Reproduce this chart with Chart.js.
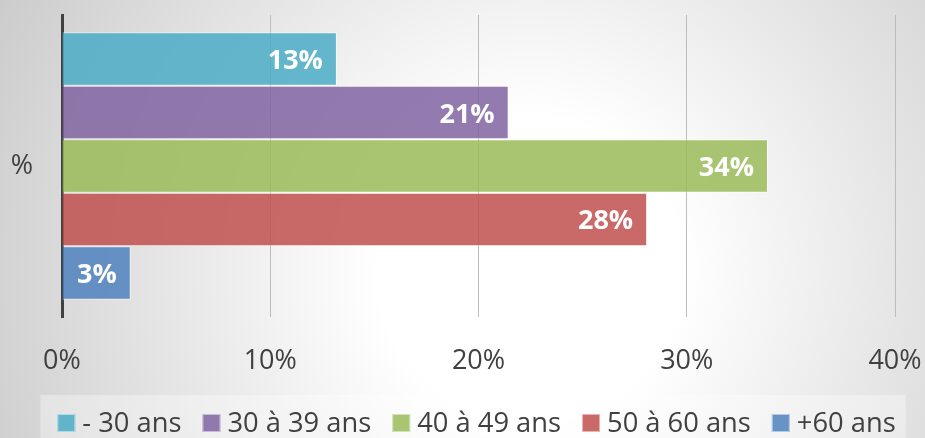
<!DOCTYPE html>
<html>
<head>
<meta charset="utf-8">
<script src="https://cdn.jsdelivr.net/npm/chart.js@4/dist/chart.umd.min.js"></script>
<style>
  html, body { margin: 0; padding: 0; background: #d0d0d0; }
  #wrap { width: 925px; height: 438px; }
</style>
</head>
<body>
<div id="wrap"><canvas id="c" width="925" height="438"></canvas></div>
<script>
const categories = ['%'];
const seriesNames = ['- 30 ans', '30 à 39 ans', '40 à 49 ans', '50 à 60 ans', '+60 ans'];
const seriesValues = [13.2, 21.45, 33.9, 28.1, 3.3];
const seriesColors = ['rgba(75,172,198,0.85)', 'rgba(128,100,162,0.85)', 'rgba(155,187,89,0.85)', 'rgba(192,80,77,0.85)', 'rgba(79,129,189,0.85)'];
const xTickMin = 0;
const xTickMax = 40;
const xTickStep = 10;

const textFont = "'Open Sans', 'DejaVu Sans', sans-serif";
const LEGEND_H = 43;

const bgPlugin = {
  id: 'bg',
  beforeDraw(chart) {
    const ctx = chart.ctx;
    const w = chart.width, h = chart.height;
    ctx.save();
    const g = ctx.createRadialGradient(530, 270, 20, 530, 270, 620);
    g.addColorStop(0, '#ffffff');
    g.addColorStop(0.22, '#ffffff');
    g.addColorStop(0.6, '#e4e4e4');
    g.addColorStop(1, '#c9c9c9');
    ctx.fillStyle = g;
    ctx.fillRect(0, 0, w, h);
    ctx.restore();
  }
};

const legendPlugin = {
  id: 'customLegend',
  afterDraw(chart) {
    const ctx = chart.ctx;
    ctx.save();
    ctx.font = '27.3px ' + textFont;
    const box = 18, gapText = 7, gapItem = 21;
    const items = chart.data.datasets.map(ds => ({
      text: ds.label, color: ds.backgroundColor, w: ctx.measureText(ds.label).width
    }));
    const total = items.reduce((s, it) => s + box + gapText + it.w, 0) + gapItem * (items.length - 1);
    const cx = chart.width / 2 + 14;
    let x = cx - total / 2;
    const top = chart.height - LEGEND_H;
    ctx.fillStyle = 'rgba(255,255,255,0.35)';
    ctx.fillRect(x - 17, top, total + 27, LEGEND_H);
    const base = top + 37;
    items.forEach(it => {
      ctx.fillStyle = it.color;
      ctx.fillRect(x, base - box, box, box);
      ctx.strokeStyle = 'rgba(255,255,255,0.5)';
      ctx.lineWidth = 1;
      ctx.strokeRect(x + 0.5, base - box + 0.5, box - 1, box - 1);
      ctx.fillStyle = '#404040';
      ctx.textAlign = 'left';
      ctx.textBaseline = 'alphabetic';
      ctx.fillText(it.text, x + box + gapText, base);
      x += box + gapText + it.w + gapItem;
    });
    ctx.restore();
  }
};

const valueLabelPlugin = {
  id: 'valueLabels',
  afterDatasetsDraw(chart) {
    const ctx = chart.ctx;
    ctx.save();
    ctx.font = 'bold 27px ' + textFont;
    ctx.fillStyle = '#ffffff';
    ctx.textAlign = 'right';
    ctx.textBaseline = 'alphabetic';
    chart.data.datasets.forEach((ds, i) => {
      const meta = chart.getDatasetMeta(i);
      meta.data.forEach((el, j) => {
        const v = ds.data[j];
        ctx.fillText(Math.round(v) + '%', el.x - 14, el.y + 10);
      });
    });
    ctx.restore();
  }
};

new Chart(document.getElementById('c'), {
  type: 'bar',
  data: {
    labels: categories,
    datasets: seriesNames.map((name, i) => ({
      label: name,
      data: [seriesValues[i]],
      backgroundColor: seriesColors[i],
      borderColor: 'rgba(255,255,255,0.55)',
      borderWidth: 1,
      categoryPercentage: 0.885,
      barPercentage: 1.0
    }))
  },
  options: {
    indexAxis: 'y',
    responsive: false,
    animation: false,
    layout: { padding: { top: 15, right: 30, left: 0, bottom: LEGEND_H } },
    plugins: {
      tooltip: { enabled: false },
      legend: { display: false }
    },
    scales: {
      x: {
        min: xTickMin,
        max: xTickMax,
        ticks: {
          stepSize: xTickStep,
          callback: v => v + '%',
          color: '#404040',
          padding: 28,
          maxRotation: 0,
          font: { family: textFont, size: 27 }
        },
        grid: { color: '#bcbcbc', lineWidth: 1, drawTicks: false },
        border: { display: false },
        afterFit(scale) { scale.height = 78; scale.paddingLeft = 0; scale.paddingRight = 0; }
      },
      y: {
        ticks: {
          color: '#404040',
          padding: 29,
          font: { family: textFont, size: 27 }
        },
        grid: { display: false, drawTicks: false },
        border: { display: true, color: '#404040', width: 3 },
        afterFit(scale) { scale.width = 62; scale.paddingTop = 0; scale.paddingBottom = 0; }
      }
    }
  },
  plugins: [bgPlugin, valueLabelPlugin, legendPlugin]
});
</script>
</body>
</html>
